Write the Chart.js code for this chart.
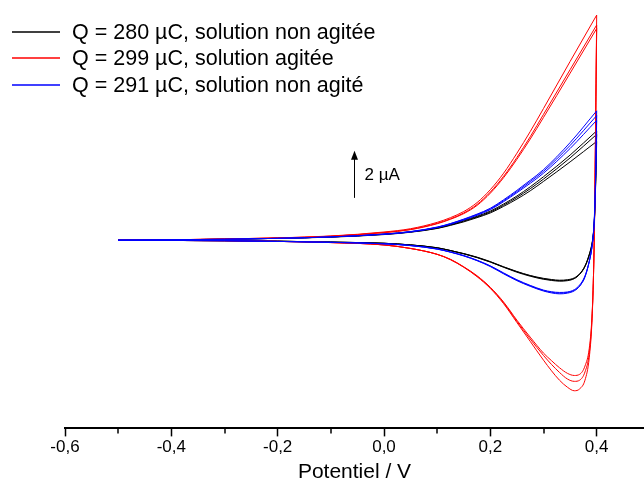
<!DOCTYPE html>
<html>
<head>
<meta charset="utf-8">
<script src="https://cdn.jsdelivr.net/npm/chart.js@4.4.1/dist/chart.umd.min.js"></script>
<style>
  html, body { margin: 0; padding: 0; background: #fff; }
  canvas { display: block; }
</style>
</head>
<body>
<canvas id="cv" width="644" height="485"></canvas>
<script>
// potentiel (V) : aller (-0,5 -> 0,4) puis retour (0,4 -> -0,5)
const potFwd = [-0.5, -0.4, -0.3, -0.2, -0.1, 0, 0.05, 0.1, 0.125, 0.15, 0.175, 0.2, 0.225, 0.25, 0.275, 0.3, 0.35, 0.4];
const potRev = [0.398, 0.396, 0.394, 0.391, 0.386, 0.378, 0.368, 0.358, 0.345, 0.33, 0.315, 0.3, 0.275, 0.25, 0.225, 0.2, 0.175, 0.15, 0.125, 0.1, 0.05, 0, -0.1, -0.2, -0.3, -0.4, -0.5];

// courant (µA), 3 cycles par courbe
const blackFwd = [
  [0, 0.02, 0.04, 0.08, 0.14, 0.26, 0.36, 0.53, 0.67, 0.84, 1.02, 1.24, 1.54, 1.88, 2.27, 2.7, 3.62, 4.65],
  [0, 0.02, 0.04, 0.08, 0.14, 0.25, 0.35, 0.51, 0.65, 0.81, 0.99, 1.2, 1.49, 1.82, 2.19, 2.6, 3.5, 4.5],
  [0, 0.02, 0.04, 0.08, 0.13, 0.24, 0.34, 0.5, 0.63, 0.78, 0.96, 1.16, 1.44, 1.75, 2.1, 2.5, 3.33, 4.2]
];
const blackRev = [
  [2.5, 1.05, 0.35, -0.15, -0.6, -1.1, -1.45, -1.63, -1.72, -1.74, -1.71, -1.66, -1.53, -1.36, -1.15, -0.93, -0.74, -0.58, -0.44, -0.33, -0.2, -0.13, -0.08, -0.04, -0.02, -0.01, 0],
  [2.4, 1.0, 0.3, -0.2, -0.65, -1.12, -1.45, -1.62, -1.7, -1.72, -1.69, -1.64, -1.51, -1.34, -1.14, -0.92, -0.73, -0.57, -0.44, -0.32, -0.2, -0.13, -0.08, -0.04, -0.02, -0.01, 0],
  [2.3, 0.95, 0.3, -0.2, -0.62, -1.1, -1.42, -1.6, -1.68, -1.7, -1.67, -1.62, -1.5, -1.33, -1.13, -0.91, -0.72, -0.57, -0.44, -0.32, -0.2, -0.13, -0.08, -0.04, -0.02, -0.01, 0]
];
const redFwd = [
  [0, 0.02, 0.05, 0.1, 0.18, 0.35, 0.49, 0.76, 0.96, 1.22, 1.6, 2.15, 2.85, 3.7, 4.62, 5.6, 7.6, 9.57],
  [0, 0.02, 0.05, 0.1, 0.17, 0.33, 0.46, 0.72, 0.91, 1.16, 1.52, 2.05, 2.72, 3.52, 4.4, 5.35, 7.25, 9.15],
  [0, 0.02, 0.05, 0.09, 0.17, 0.32, 0.45, 0.7, 0.89, 1.13, 1.48, 2.0, 2.66, 3.44, 4.3, 5.22, 7.1, 9.0]
];
const redRev = [
  [5.0, 1.0, -1.5, -3.5, -5.0, -5.95, -6.32, -6.4, -6.25, -5.95, -5.55, -5.1, -4.3, -3.5, -2.7, -2.05, -1.55, -1.15, -0.83, -0.6, -0.35, -0.2, -0.1, -0.05, -0.02, -0.01, 0],
  [4.8, 0.9, -1.5, -3.4, -4.8, -5.6, -5.95, -6.0, -5.9, -5.62, -5.28, -4.9, -4.2, -3.45, -2.66, -2.02, -1.53, -1.14, -0.82, -0.6, -0.35, -0.2, -0.1, -0.05, -0.02, -0.01, 0],
  [4.7, 0.8, -1.5, -3.3, -4.6, -5.35, -5.7, -5.75, -5.66, -5.42, -5.12, -4.8, -4.12, -3.4, -2.63, -2.0, -1.51, -1.13, -0.81, -0.6, -0.35, -0.2, -0.1, -0.05, -0.02, -0.01, 0]
];
const blueFwd = [
  [0, 0.02, 0.04, 0.08, 0.14, 0.26, 0.37, 0.56, 0.71, 0.9, 1.11, 1.36, 1.72, 2.12, 2.55, 3.0, 4.15, 5.5],
  [0, 0.02, 0.04, 0.08, 0.14, 0.26, 0.36, 0.55, 0.7, 0.88, 1.09, 1.33, 1.68, 2.07, 2.49, 2.93, 4.03, 5.3],
  [0, 0.02, 0.04, 0.08, 0.14, 0.25, 0.35, 0.54, 0.68, 0.86, 1.06, 1.3, 1.64, 2.02, 2.42, 2.85, 3.9, 5.1]
];
const blueRev = [
  [2.8, 1.2, 0.35, -0.3, -0.9, -1.55, -1.95, -2.15, -2.25, -2.28, -2.24, -2.16, -1.96, -1.72, -1.43, -1.12, -0.87, -0.67, -0.51, -0.38, -0.23, -0.15, -0.09, -0.05, -0.02, -0.01, 0],
  [2.7, 1.1, 0.3, -0.32, -0.92, -1.56, -1.95, -2.13, -2.22, -2.25, -2.21, -2.14, -1.94, -1.7, -1.41, -1.1, -0.86, -0.66, -0.5, -0.37, -0.23, -0.15, -0.09, -0.05, -0.02, -0.01, 0],
  [2.6, 1.05, 0.3, -0.3, -0.9, -1.52, -1.9, -2.1, -2.2, -2.22, -2.19, -2.12, -1.92, -1.68, -1.39, -1.09, -0.85, -0.65, -0.5, -0.37, -0.22, -0.15, -0.09, -0.05, -0.02, -0.01, 0]
];

const seriesNames = [
  'Q = 280 µC, solution non agitée',
  'Q = 299 µC, solution agitée',
  'Q = 291 µC, solution non agité'
];
const seriesColors = ['#000000', '#ff0000', '#0000ff'];

const majorTicks = [-0.6, -0.4, -0.2, 0, 0.2, 0.4];
const minorTicks = [-0.5, -0.3, -0.1, 0.1, 0.3];

Chart.defaults.font.family = '"Liberation Sans", Arial, sans-serif';
Chart.defaults.color = '#000';

function branch(pts, color) {
  return {
    data: pts,
    borderColor: color,
    borderWidth: 1,
    pointRadius: 0,
    showLine: true,
    cubicInterpolationMode: 'monotone',
    fill: false
  };
}

function makeSets(fwd, rev, color) {
  const out = [];
  for (let c = 0; c < fwd.length; c++) {
    const up = potFwd.map((p, i) => ({ x: p, y: fwd[c][i] }));
    // le retour part du sommet de l'aller
    const down = [up[up.length - 1]].concat(potRev.map((p, i) => ({ x: p, y: rev[c][i] })));
    out.push(branch(up, color));
    out.push(branch(down, color));
  }
  return out;
}

// index 0 dessiné en dernier (au-dessus) : bleu, rouge, noir
const datasets = [].concat(
  makeSets(blueFwd, blueRev, seriesColors[2]),
  makeSets(redFwd, redRev, seriesColors[1]),
  makeSets(blackFwd, blackRev, seriesColors[0])
);

const extras = {
  id: 'extras',
  afterDraw(chart) {
    const ctx = chart.ctx;
    const xs = chart.scales.x;
    const ys = chart.scales.y;
    ctx.save();

    // petites graduations
    ctx.strokeStyle = '#000';
    ctx.lineWidth = 1.5;
    minorTicks.forEach(v => {
      const p = Math.round(xs.getPixelForValue(v));
      ctx.beginPath();
      ctx.moveTo(p, xs.top);
      ctx.lineTo(p, xs.top + 5);
      ctx.stroke();
    });

    // barre d'échelle 2 µA
    const bx = Math.round(xs.getPixelForValue(-0.056)) + 0.5;
    const y0 = ys.getPixelForValue(1.8);
    const y1 = ys.getPixelForValue(3.8);
    ctx.lineWidth = 1;
    ctx.beginPath();
    ctx.moveTo(bx, y0);
    ctx.lineTo(bx, y1 + 6);
    ctx.stroke();
    ctx.fillStyle = '#000';
    ctx.beginPath();
    ctx.moveTo(bx, y1);
    ctx.lineTo(bx - 3.5, y1 + 9);
    ctx.lineTo(bx + 3.5, y1 + 9);
    ctx.closePath();
    ctx.fill();
    ctx.font = '17px "Liberation Sans", Arial, sans-serif';
    ctx.textBaseline = 'middle';
    ctx.fillText('2 µA', bx + 10, (y0 + y1) / 2 + 1);

    // légende
    ctx.font = '21.5px "Liberation Sans", Arial, sans-serif';
    for (let i = 0; i < seriesNames.length; i++) {
      const ly = Math.round(32 + i * 26.3);
      ctx.strokeStyle = seriesColors[i];
      ctx.lineWidth = 1.5;
      ctx.beginPath();
      ctx.moveTo(12, ly);
      ctx.lineTo(60, ly);
      ctx.stroke();
      ctx.fillStyle = '#000';
      ctx.fillText(seriesNames[i], 72, ly + 1);
    }
    ctx.restore();
  }
};

const cv = document.getElementById('cv');
new Chart(cv, {
  type: 'scatter',
  data: { datasets: datasets },
  options: {
    responsive: false,
    animation: false,
    devicePixelRatio: 1,
    layout: { padding: { left: 65, right: 0, top: 5, bottom: 0 } },
    plugins: { legend: { display: false }, tooltip: { enabled: false } },
    scales: {
      x: {
        type: 'linear',
        position: 'bottom',
        min: -0.6,
        max: 0.489,
        afterBuildTicks: (scale) => { scale.ticks = majorTicks.map(v => ({ value: v })); },
        border: { display: true, color: '#000', width: 2 },
        grid: { drawOnChartArea: false, drawTicks: true, tickLength: 8, tickColor: '#000', tickWidth: 1.5 },
        ticks: {
          color: '#000',
          font: { size: 17 },
          padding: 1,
          maxRotation: 0,
          autoSkip: false,
          callback: (v) => (Math.abs(v) < 1e-9 ? 0 : v).toFixed(1).replace('.', ',')
        },
        title: {
          display: true,
          text: 'Potentiel / V',
          color: '#000',
          font: { size: 21 },
          padding: { top: 1, bottom: 0 }
        }
      },
      y: { display: false, min: -8, max: 10 }
    }
  },
  plugins: [extras]
});
</script>
</body>
</html>
